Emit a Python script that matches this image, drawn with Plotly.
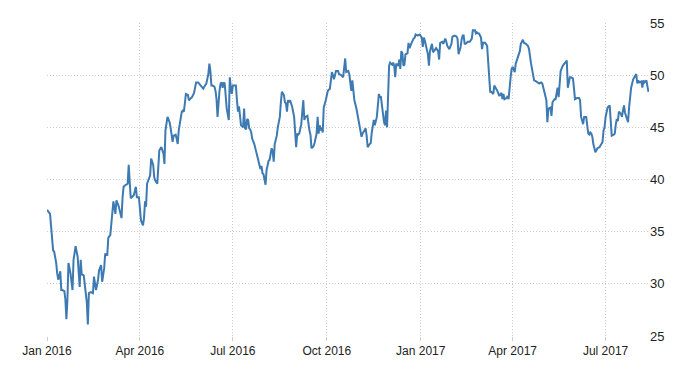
import plotly.graph_objects as go

# Readings for 2016 (month-day) and values
dates_2016 = [
    "01-01","01-03","01-04","01-05","01-06","01-07","01-08","01-10","01-11","01-12",
    "01-14","01-15","01-16","01-18","01-19","01-20","01-21","01-22","01-24","01-26",
    "01-27","01-29","01-31","02-01","02-02","02-03","02-04","02-06","02-07","02-09",
    "02-10","02-11","02-13","02-15","02-16","02-18","02-20","02-21","02-23","02-24",
    "02-26","02-27","02-29","03-01","03-03","03-04","03-05","03-06","03-08","03-09",
    "03-11","03-12","03-14","03-15","03-16","03-17","03-19","03-20","03-21","03-23",
    "03-25","03-26","03-28","03-29","03-31","04-01","04-02","04-04","04-05","04-06",
    "04-07","04-08","04-10","04-11","04-12","04-14","04-15","04-16","04-18","04-19",
    "04-20","04-22","04-24","04-25","04-26","04-28","04-29","04-30","05-01","05-02",
    "05-03","05-04","05-06","05-07","05-08","05-09","05-11","05-12","05-13","05-14",
    "05-15","05-16","05-18","05-19","05-21","05-22","05-24","05-25","05-26","05-28",
    "05-29","05-31","06-02","06-03","06-05","06-07","06-08","06-09","06-10","06-11",
    "06-13","06-14","06-15","06-16","06-17","06-18","06-19","06-20","06-21","06-22",
    "06-23","06-24","06-25","06-27","06-28","06-29","06-30","07-01","07-04","07-05",
    "07-06","07-07","07-08","07-09","07-11","07-12","07-13","07-14","07-15","07-16",
    "07-17","07-18","07-19","07-20","07-22","07-23","07-24","07-25","07-26","07-27",
    "07-28","07-29","07-30","07-31","08-01","08-02","08-03","08-05","08-06","08-07",
    "08-08","08-09","08-10","08-11","08-13","08-14","08-16","08-17","08-18","08-20",
    "08-21","08-22","08-23","08-24","08-25","08-26","08-27","08-28","08-30","08-31",
    "09-01","09-02","09-03","09-04","09-06","09-07","09-08","09-09","09-10","09-12",
    "09-13","09-14","09-15","09-16","09-18","09-19","09-21","09-22","09-23","09-24",
    "09-25","09-26","09-27","09-28","09-30","10-01","10-02","10-04","10-05","10-06",
    "10-07","10-08","10-10","10-12","10-13","10-15","10-17","10-18","10-19","10-20",
    "10-22","10-23","10-24","10-25","10-26","10-27","10-28","10-30","10-31","11-02",
    "11-04","11-05","11-07","11-08","11-09","11-10","11-12","11-13","11-14","11-16",
    "11-17","11-18","11-19","11-21","11-22","11-23","11-24","11-25","11-26","11-27",
    "11-28","11-29","11-30","12-01","12-02","12-04","12-05","12-06","12-07","12-08",
    "12-10","12-11","12-12","12-13","12-14","12-15","12-16","12-17","12-19","12-20",
    "12-21","12-22","12-23","12-25","12-26","12-27","12-29","12-31",
]
values_2016 = [
    37.1,36.9,36.7,35.5,33.9,33.2,33.1,32.0,31.0,30.4,
    31.2,29.4,29.4,29.3,28.5,26.6,28.5,32.0,31.0,29.4,
    32.3,33.6,32.6,31.3,29.7,32.3,30.9,30.8,30.1,28.2,
    26.1,29.1,29.2,29.1,30.7,29.4,30.4,31.3,31.8,30.2,
    31.5,32.9,32.7,34.4,34.7,35.8,36.1,37.9,36.7,38.0,
    37.5,37.1,36.3,38.3,39.3,39.4,39.5,39.6,41.4,38.2,
    38.4,38.5,39.3,38.3,38.3,36.7,36.1,35.6,36.3,37.9,
    37.4,39.6,40.1,40.4,42.0,41.4,40.2,39.9,39.6,41.2,
    42.8,43.1,42.5,41.5,44.7,46.0,45.8,45.5,45.0,44.4,
    43.6,44.2,44.3,43.9,43.4,44.7,46.1,46.5,46.6,46.5,
    47.3,48.2,48.1,47.6,47.8,47.9,48.3,49.0,49.3,49.3,
    49.2,49.0,48.7,48.9,49.2,50.1,51.1,50.4,49.0,49.0,
    48.9,48.5,47.7,46.0,47.9,48.6,49.2,49.3,48.8,49.3,
    49.2,47.5,46.8,45.7,49.8,48.8,48.2,49.0,49.0,47.6,
    46.5,47.0,45.7,45.2,45.0,46.8,44.9,44.8,45.8,45.7,
    44.9,44.8,44.5,43.9,43.4,43.1,42.6,42.2,41.8,41.4,
    41.0,41.3,40.6,40.5,39.8,39.5,40.9,41.8,41.9,42.5,
    43.0,42.7,41.7,43.4,44.2,45.0,46.0,47.4,48.4,48.1,
    47.4,47.3,46.5,47.6,47.4,47.6,47.3,47.0,46.0,44.2,
    43.1,44.4,44.3,44.4,45.3,46.5,47.6,45.7,46.0,46.1,
    45.0,44.7,44.3,43.0,43.2,43.5,44.4,46.0,44.4,45.2,
    44.7,45.0,44.5,46.9,47.6,48.2,48.5,48.7,49.3,50.3,
    50.0,49.6,50.4,50.4,50.1,50.0,49.8,50.6,51.6,50.3,
    50.4,50.1,49.5,48.5,49.5,48.4,47.6,46.8,46.3,45.0,
    44.1,44.4,44.7,44.9,44.2,43.1,43.4,43.5,44.5,45.7,
    45.2,45.7,46.0,48.2,47.9,47.9,47.1,46.0,45.5,45.2,
    46.6,45.0,47.3,50.9,51.2,51.0,51.2,50.9,49.8,51.1,
    50.9,51.5,50.6,52.3,52.1,50.9,51.0,52.0,52.1,53.1,
    52.6,52.9,53.1,53.5,53.6,53.9,53.8,53.9,
]

# Readings for 2017 (month-day) and values
dates_2017 = [
    "01-01","01-02","01-03","01-04","01-05","01-06","01-08","01-09","01-10","01-12",
    "01-13","01-14","01-16","01-18","01-19","01-20","01-22","01-23","01-25","01-26",
    "01-27","01-29","01-31","02-01","02-03","02-05","02-06","02-07","02-09","02-10",
    "02-11","02-12","02-13","02-14","02-15","02-16","02-18","02-19","02-20","02-21",
    "02-23","02-24","02-25","02-26","02-27","03-01","03-02","03-03","03-05","03-07",
    "03-08","03-09","03-10","03-11","03-13","03-14","03-16","03-17","03-19","03-21",
    "03-22","03-23","03-24","03-26","03-27","03-28","03-30","03-31","04-01","04-03",
    "04-04","04-06","04-08","04-09","04-11","04-12","04-14","04-16","04-17","04-19",
    "04-21","04-22","04-24","04-25","04-27","04-29","04-30","05-02","05-04","05-05",
    "05-06","05-08","05-09","05-10","05-12","05-13","05-15","05-16","05-17","05-18",
    "05-20","05-22","05-24","05-25","05-27","05-28","05-30","05-31","06-01","06-03",
    "06-05","06-06","06-07","06-09","06-10","06-12","06-13","06-14","06-15","06-16",
    "06-17","06-18","06-19","06-21","06-22","06-23","06-25","06-26","06-28","06-29",
    "06-30","07-01","07-02","07-03","07-05","07-06","07-07","07-09","07-10","07-11",
    "07-12","07-13","07-14","07-16","07-17","07-18","07-19","07-20","07-22","07-23",
    "07-24","07-25","07-26","07-28","07-30","07-31","08-01","08-02","08-03","08-05",
    "08-06","08-07","08-08","08-10","08-11","08-12",
]
values_2017 = [
    53.8,53.6,52.7,53.6,53.3,52.8,52.0,50.9,52.3,53.0,
    52.2,52.3,52.6,52.3,51.5,53.1,53.2,53.0,53.5,53.2,
    52.8,52.5,53.0,53.7,53.8,53.7,53.5,52.0,52.7,53.4,
    53.8,53.8,53.0,53.0,53.1,53.2,53.2,53.3,53.5,54.3,
    54.3,54.0,54.1,54.0,54.0,53.6,52.5,53.1,53.1,52.8,
    51.4,49.8,48.4,48.4,48.2,49.0,48.7,48.5,48.0,48.3,
    47.7,48.2,47.7,47.8,48.0,47.7,49.8,50.6,50.8,50.3,
    51.1,51.7,52.3,53.0,53.4,53.1,53.0,52.8,52.5,51.1,
    50.1,49.5,49.4,49.3,49.2,49.3,49.2,48.4,47.6,45.5,
    46.8,46.9,46.1,47.4,47.7,47.7,48.8,47.9,49.5,50.4,
    50.9,51.2,51.4,48.8,49.8,49.8,49.7,48.8,47.7,47.8,
    47.8,47.6,46.0,45.3,46.0,46.0,45.3,44.4,44.3,44.5,
    44.4,44.1,43.4,42.6,42.8,43.0,43.1,43.3,43.6,44.7,
    45.0,46.0,46.6,46.9,47.1,46.0,44.2,44.3,44.4,45.3,
    45.8,45.6,46.5,46.3,46.0,46.6,47.1,46.4,45.8,45.5,
    46.9,48.4,48.8,49.6,49.9,50.1,49.2,49.5,49.3,49.4,
    48.8,49.5,49.3,49.5,48.9,48.4,
]

x_ticks = ["2016-01-01", "2016-04-01", "2016-07-01", "2016-10-01",
           "2017-01-01", "2017-04-01", "2017-07-01"]
x_labels = ["Jan 2016", "Apr 2016", "Jul 2016", "Oct 2016",
            "Jan 2017", "Apr 2017", "Jul 2017"]
y_ticks = [25, 30, 35, 40, 45, 50, 55]

dates = ["2016-" + d for d in dates_2016] + ["2017-" + d for d in dates_2017]
values = values_2016 + values_2017

FONT = "Liberation Sans Narrow, Liberation Sans, Arial, sans-serif"
GRID = "#cccccc"

fig = go.Figure()
fig.add_trace(go.Scatter(
    x=dates, y=values, mode="lines",
    line=dict(color="#3d7ab2", width=2),
    hoverinfo="skip", showlegend=False,
))

# The page adds an 8px body margin, so the figure is sized to fit within the window.
fig.update_layout(
    width=692, height=367,
    margin=dict(l=39, r=51, t=15, b=39, autoexpand=False),
    paper_bgcolor="white", plot_bgcolor="white",
    font=dict(family=FONT, size=12, color="#222222"),
    xaxis=dict(
        range=["2016-01-01", "2017-08-12 12:00"],
        tickvals=x_ticks, ticktext=x_labels,
        showgrid=True, gridcolor=GRID, griddash="1px,2px", gridwidth=1,
        ticks="outside", ticklen=4, tickcolor=GRID,
        showline=False, zeroline=False, automargin=False,
        tickfont=dict(family=FONT, size=12, color="#222222"),
    ),
    yaxis=dict(
        range=[25, 55], side="right",
        tickvals=y_ticks,
        showgrid=True, gridcolor=GRID, griddash="1px,2px", gridwidth=1,
        showline=False, zeroline=False, ticks="", automargin=False,
        tickfont=dict(family=FONT, size=13, color="#222222"),
    ),
)

fig.write_html("out.html")
